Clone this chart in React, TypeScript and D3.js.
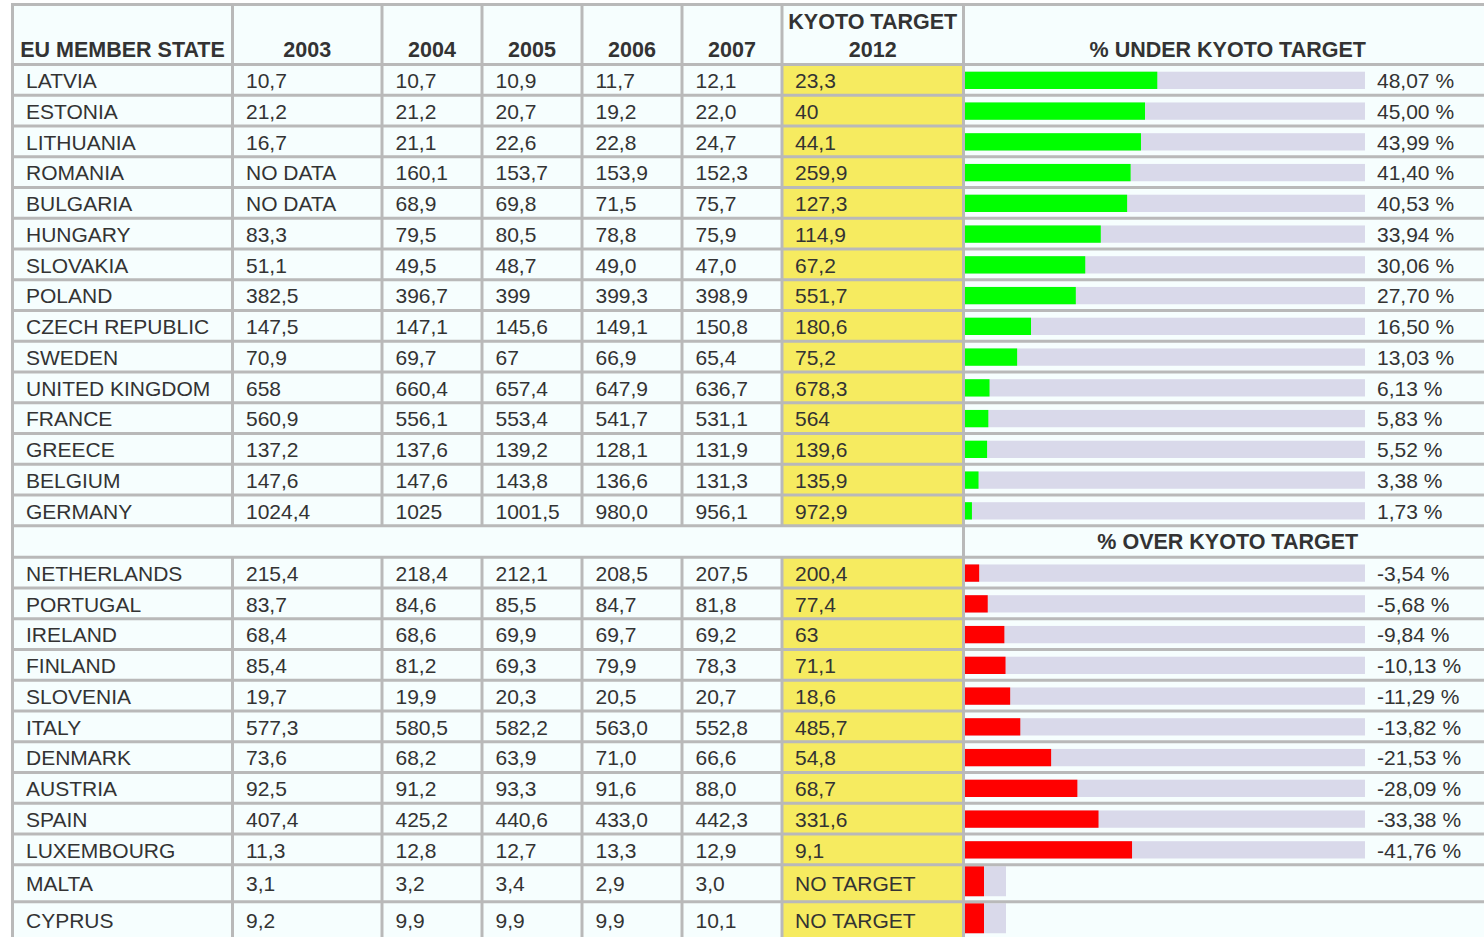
import * as d3 from 'd3';

const headerYears = ['2003', '2004', '2005', '2006', '2007'];

const underStates = ['LATVIA', 'ESTONIA', 'LITHUANIA', 'ROMANIA', 'BULGARIA', 'HUNGARY', 'SLOVAKIA', 'POLAND', 'CZECH REPUBLIC', 'SWEDEN', 'UNITED KINGDOM', 'FRANCE', 'GREECE', 'BELGIUM', 'GERMANY'];
const under2003 = ['10,7', '21,2', '16,7', 'NO DATA', 'NO DATA', '83,3', '51,1', '382,5', '147,5', '70,9', '658', '560,9', '137,2', '147,6', '1024,4'];
const under2004 = ['10,7', '21,2', '21,1', '160,1', '68,9', '79,5', '49,5', '396,7', '147,1', '69,7', '660,4', '556,1', '137,6', '147,6', '1025'];
const under2005 = ['10,9', '20,7', '22,6', '153,7', '69,8', '80,5', '48,7', '399', '145,6', '67', '657,4', '553,4', '139,2', '143,8', '1001,5'];
const under2006 = ['11,7', '19,2', '22,8', '153,9', '71,5', '78,8', '49,0', '399,3', '149,1', '66,9', '647,9', '541,7', '128,1', '136,6', '980,0'];
const under2007 = ['12,1', '22,0', '24,7', '152,3', '75,7', '75,9', '47,0', '398,9', '150,8', '65,4', '636,7', '531,1', '131,9', '131,3', '956,1'];
const underTarget = ['23,3', '40', '44,1', '259,9', '127,3', '114,9', '67,2', '551,7', '180,6', '75,2', '678,3', '564', '139,6', '135,9', '972,9'];
const underPct = [48.07, 45.0, 43.99, 41.4, 40.53, 33.94, 30.06, 27.7, 16.5, 13.03, 6.13, 5.83, 5.52, 3.38, 1.73];

const overStates = ['NETHERLANDS', 'PORTUGAL', 'IRELAND', 'FINLAND', 'SLOVENIA', 'ITALY', 'DENMARK', 'AUSTRIA', 'SPAIN', 'LUXEMBOURG'];
const over2003 = ['215,4', '83,7', '68,4', '85,4', '19,7', '577,3', '73,6', '92,5', '407,4', '11,3'];
const over2004 = ['218,4', '84,6', '68,6', '81,2', '19,9', '580,5', '68,2', '91,2', '425,2', '12,8'];
const over2005 = ['212,1', '85,5', '69,9', '69,3', '20,3', '582,2', '63,9', '93,3', '440,6', '12,7'];
const over2006 = ['208,5', '84,7', '69,7', '79,9', '20,5', '563,0', '71,0', '91,6', '433,0', '13,3'];
const over2007 = ['207,5', '81,8', '69,2', '78,3', '20,7', '552,8', '66,6', '88,0', '442,3', '12,9'];
const overTarget = ['200,4', '77,4', '63', '71,1', '18,6', '485,7', '54,8', '68,7', '331,6', '9,1'];
const overPct = [-3.54, -5.68, -9.84, -10.13, -11.29, -13.82, -21.53, -28.09, -33.38, -41.76];

const noTargetStates = ['MALTA', 'CYPRUS'];
const noTarget2003 = ['3,1', '9,2'];
const noTarget2004 = ['3,2', '9,9'];
const noTarget2005 = ['3,4', '9,9'];
const noTarget2006 = ['2,9', '9,9'];
const noTarget2007 = ['3,0', '10,1'];
const noTargetMark = 4.75; // placeholder bar drawn for states without target
const noTargetTrack = 10.25;

// ---- look ----
const W = 1484;
const H = 937;
const FONT = "'Liberation Sans', Arial, Helvetica, sans-serif";
const INK = '#333333';
const BORDER = '#b9b9b9';
const BG = '#f6fefe';
const YELLOW = '#f6eb60';
const TRACK = '#d9d9ea';
const GREEN = '#00ff00';
const RED = '#ff0000';
const FS = 21;
const HFS = 21.5;

const colX = [12.5, 232.5, 382, 482, 582, 682, 782, 963.5, 1492];
const headTop = 4.5;
const headBottom = 64.5;
const rowH = 30.75;
const sepH = 31.5;
const tallH = 37;
const barX0 = 965;

const fmtPct = (v: number) => d3.format('.2f')(v).replace('.', ',').replace('−', '-') + ' %';

type Row = {
  name: string;
  cells: string[];
  target: string;
  pct: number | null;
  kind: 'under' | 'over' | 'none';
  y: number;
  h: number;
};

export default function App() {
  const x = d3.scaleLinear().domain([0, 100]).range([0, 400]);

  const rows: Row[] = [];
  let y = headBottom;
  underStates.forEach((s, i) => {
    rows.push({ name: s, cells: [under2003[i], under2004[i], under2005[i], under2006[i], under2007[i]], target: underTarget[i], pct: underPct[i], kind: 'under', y, h: rowH });
    y += rowH;
  });
  const sepY = y;
  y += sepH;
  overStates.forEach((s, i) => {
    rows.push({ name: s, cells: [over2003[i], over2004[i], over2005[i], over2006[i], over2007[i]], target: overTarget[i], pct: overPct[i], kind: 'over', y, h: rowH });
    y += rowH;
  });
  noTargetStates.forEach((s, i) => {
    rows.push({ name: s, cells: [noTarget2003[i], noTarget2004[i], noTarget2005[i], noTarget2006[i], noTarget2007[i]], target: 'NO TARGET', pct: null, kind: 'none', y, h: tallH });
    y += tallH;
  });

  const hLines = [headTop, headBottom, ...rows.map((r) => r.y + r.h), sepY + sepH];
  const mid = (a: number, b: number) => (a + b) / 2;

  return (
    <svg width={W} height={H} style={{ position: 'absolute', left: 0, top: 0, background: '#fff' }} fontFamily={FONT}>
      <rect x={colX[0]} y={headTop} width={W} height={H} fill={BG} />

      {/* yellow target column */}
      {rows.map((r) => (
        <rect key={'y' + r.name} x={colX[6]} y={r.y} width={colX[7] - colX[6]} height={r.h} fill={YELLOW} />
      ))}

      {/* bars */}
      {rows.map((r) => {
        if (r.kind === 'none') {
          return (
            <g key={'b' + r.name}>
              <rect x={barX0} y={r.y + 1.5} width={x(noTargetTrack)} height={r.h - 7} fill={TRACK} />
              <rect x={barX0} y={r.y + 1.5} width={x(noTargetMark)} height={r.h - 7} fill={RED} />
            </g>
          );
        }
        const v = Math.abs(r.pct as number);
        return (
          <g key={'b' + r.name}>
            <rect x={barX0} y={r.y + 7.2} width={x(100)} height={17.3} fill={TRACK} />
            <rect x={barX0} y={r.y + 7.2} width={x(v)} height={17.3} fill={r.kind === 'under' ? GREEN : RED} />
          </g>
        );
      })}

      {/* grid */}
      <g stroke={BORDER} strokeWidth={3} fill="none">
        {hLines.map((hy, i) => (
          <line key={'h' + i} x1={colX[0] - 1.5} x2={W} y1={hy} y2={hy} />
        ))}
        {colX.map((cx, i) => (
          <line key={'vh' + i} x1={cx} x2={cx} y1={headTop - 1.5} y2={sepY} />
        ))}
        {[colX[0], colX[7], colX[8]].map((cx, i) => (
          <line key={'vs' + i} x1={cx} x2={cx} y1={sepY} y2={sepY + sepH} />
        ))}
        {colX.map((cx, i) => (
          <line key={'vb' + i} x1={cx} x2={cx} y1={sepY + sepH} y2={H} />
        ))}
      </g>

      {/* header */}
      <g fill={INK} fontSize={HFS} fontWeight="bold" textAnchor="middle">
        <text x={mid(colX[0], colX[1])} y={57}>EU MEMBER STATE</text>
        {headerYears.map((yr, i) => (
          <text key={yr} x={mid(colX[i + 1], colX[i + 2])} y={57}>{yr}</text>
        ))}
        <text x={mid(colX[6], colX[7])} y={29}>KYOTO TARGET</text>
        <text x={mid(colX[6], colX[7])} y={57}>2012</text>
        <text x={mid(colX[7], colX[8])} y={57}>% UNDER KYOTO TARGET</text>
        <text x={mid(colX[7], colX[8])} y={sepY + 23.5}>% OVER KYOTO TARGET</text>
      </g>

      {/* body text */}
      <g fill={INK} fontSize={FS}>
        {rows.map((r) => {
          const by = r.kind === 'none' ? r.y + 26.5 : r.y + 23.5;
          return (
            <g key={'t' + r.name}>
              <text x={colX[0] + 13.5} y={by}>{r.name}</text>
              {r.cells.map((c, i) => (
                <text key={i} x={colX[i + 1] + 13.5} y={by}>{c}</text>
              ))}
              <text x={colX[6] + 13} y={by}>{r.target}</text>
              {r.pct !== null && <text x={1377} y={by}>{fmtPct(r.pct)}</text>}
            </g>
          );
        })}
      </g>
    </svg>
  );
}
